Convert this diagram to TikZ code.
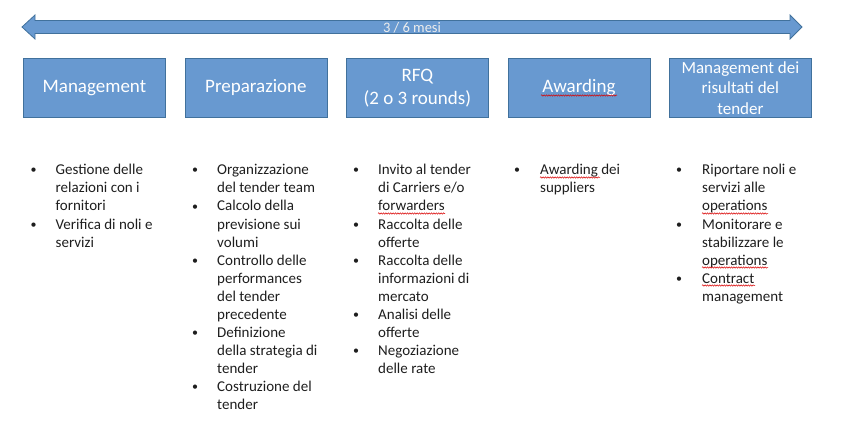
\documentclass[tikz,border=0pt]{standalone}
\usepackage{fontspec}
\setmainfont{Carlito}
\usetikzlibrary{decorations.pathmorphing}
\definecolor{boxfill}{HTML}{6899D0}
\definecolor{boxline}{HTML}{41719C}
\definecolor{txt}{HTML}{1E1E1E}
\newcommand\itemlines[1]{\begin{tabular}[t]{@{}l@{}}#1\end{tabular}}
\tikzset{
  phase/.style={draw=boxline, line width=0.8pt, fill=boxfill, text=white, anchor=north west,
    minimum width=142pt, minimum height=59pt, inner sep=1pt, align=center,
    font=\fontsize{19}{23}\selectfont},
  bul/.style={anchor=base, inner sep=0pt, text=txt, font=\fontsize{12}{18}\selectfont},
  itemtxt/.style={anchor=base west, inner sep=0pt, text=txt, font=\fontsize{15}{18}\selectfont},
  squig/.style={draw=red!85!black, line width=0.5pt, decorate, decoration={snake, amplitude=0.7pt, segment length=2.4pt}}
}
\begin{document}
\begin{tikzpicture}[x=1pt,y=-1pt]
\useasboundingbox (0,0) rectangle (848,422);
% timeline arrow
\draw[fill=boxfill, draw=boxline, line width=0.8pt]
  (22,27) -- (35,15) -- (35,20.5) -- (790,20.5) -- (790,15) -- (802,27)
  -- (790,39) -- (790,33.5) -- (35,33.5) -- (35,39) -- cycle;
\node[text=white!93!black, font=\fontsize{14.5}{17}\selectfont, inner sep=0pt] (dur) at (412,28) {3 / 6 mesi};
% phase boxes
\node[phase] (p1) at (23,58) {Management};
\node[phase] (p2) at (184.5,58) {Preparazione};
\node[phase] (p3) at (346,58) {RFQ\\(2 o 3 rounds)};
\node[phase] (p4) at (507.5,58) {Awarding};
\node[phase, font=\fontsize{17}{20.5}\selectfont] (p5) at (669,58) {Management dei\\risultati del\\tender};
\draw[squig] (541,95.5) -- (617,95.5);
% column 1
\node[bul] (b11) at (33.5,174) {•};
\node[itemtxt] (t11) at (55.5,175) {\itemlines{Gestione delle\\relazioni con i\\fornitori}};
\node[bul] (b12) at (33.5,228) {•};
\node[itemtxt] (t12) at (55.5,229) {\itemlines{Verifica di noli e\\servizi}};
% column 2
\node[bul] (b21) at (195,174) {•};
\node[itemtxt] (t21) at (217,175) {\itemlines{Organizzazione\\del tender team}};
\node[bul] (b22) at (195,210) {•};
\node[itemtxt] (t22) at (217,211) {\itemlines{Calcolo della\\previsione sui\\volumi}};
\node[bul] (b23) at (195,264) {•};
\node[itemtxt] (t23) at (217,265) {\itemlines{Controllo delle\\performances\\del tender\\precedente}};
\node[bul] (b24) at (195,336) {•};
\node[itemtxt] (t24) at (217,337) {\itemlines{Definizione\\della strategia di\\tender}};
\node[bul] (b25) at (195,390) {•};
\node[itemtxt] (t25) at (217,391) {\itemlines{Costruzione del\\tender}};
% column 3
\node[bul] (b31) at (356,174) {•};
\node[itemtxt] (t31) at (378,175) {\itemlines{Invito al tender\\di Carriers e/o\\forwarders}};
\node[bul] (b32) at (356,228) {•};
\node[itemtxt] (t32) at (378,229) {\itemlines{Raccolta delle\\offerte}};
\node[bul] (b33) at (356,264) {•};
\node[itemtxt] (t33) at (378,265) {\itemlines{Raccolta delle\\informazioni di\\mercato}};
\node[bul] (b34) at (356,318) {•};
\node[itemtxt] (t34) at (378,319) {\itemlines{Analisi delle\\offerte}};
\node[bul] (b35) at (356,354) {•};
\node[itemtxt] (t35) at (378,355) {\itemlines{Negoziazione\\delle rate}};
\draw[squig] (378,213.5) -- (445,213.5);
% column 4
\node[bul] (b41) at (517,174) {•};
\node[itemtxt] (t41) at (540,175) {\itemlines{Awarding dei\\suppliers}};
\draw[squig] (540,177.5) -- (600,177.5);
% column 5
\node[bul] (b51) at (679,174) {•};
\node[itemtxt] (t51) at (702,175) {\itemlines{Riportare noli e\\servizi alle\\operations}};
\node[bul] (b52) at (679,228) {•};
\node[itemtxt] (t52) at (702,229) {\itemlines{Monitorare e\\stabilizzare le\\operations}};
\node[bul] (b53) at (679,282) {•};
\node[itemtxt] (t53) at (702,283) {\itemlines{Contract\\management}};
\draw[squig] (702,213.5) -- (768,213.5);
\draw[squig] (702,267.5) -- (768,267.5);
\draw[squig] (702,285.5) -- (755,285.5);
\end{tikzpicture}
\end{document}
